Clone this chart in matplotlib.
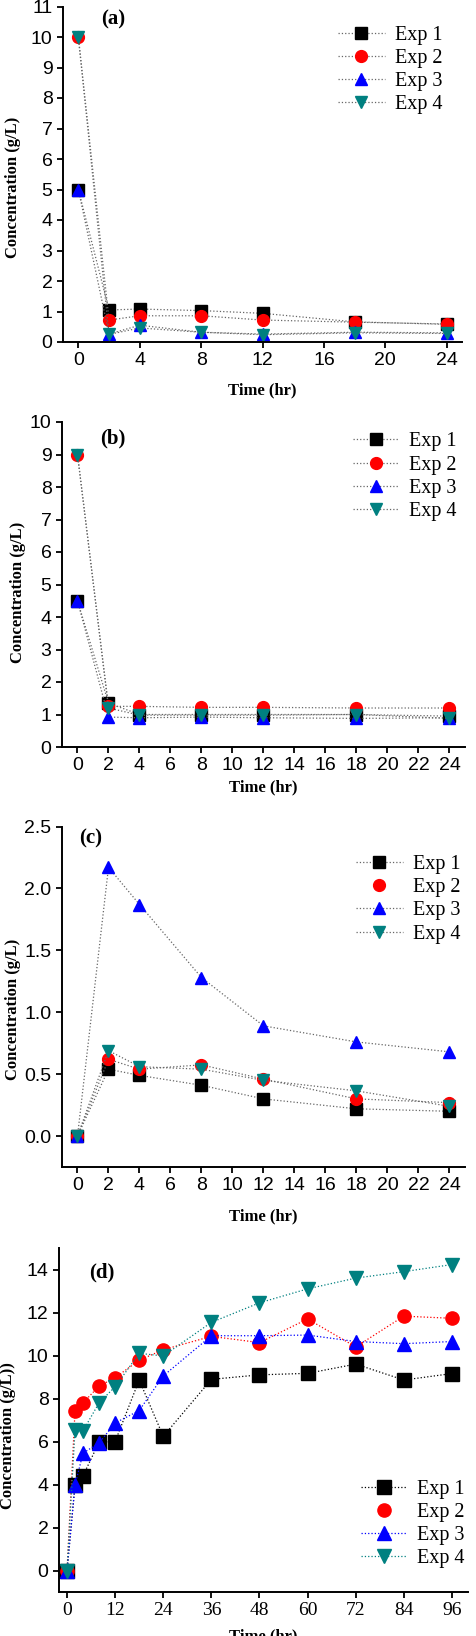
import matplotlib
matplotlib.use("Agg")
import matplotlib.pyplot as plt

# Data
time_short = [0, 2, 4, 8, 12, 18, 24]
time_long = [0, 2, 4, 8, 12, 18, 24, 36, 48, 60, 72, 84, 96]
labels = ["Exp 1", "Exp 2", "Exp 3", "Exp 4"]

# (a)
a_exp1 = [5.0, 1.05, 1.08, 1.03, 0.94, 0.66, 0.58]
a_exp2 = [10.0, 0.72, 0.86, 0.86, 0.72, 0.65, 0.59]
a_exp3 = [5.0, 0.26, 0.55, 0.32, 0.26, 0.32, 0.30]
a_exp4 = [10.0, 0.25, 0.46, 0.32, 0.24, 0.30, 0.28]

# (b)
b_exp1 = [4.5, 1.35, 1.0, 1.0, 1.0, 1.0, 0.95]
b_exp2 = [9.0, 1.25, 1.25, 1.22, 1.22, 1.2, 1.2]
b_exp3 = [4.5, 0.92, 0.9, 0.92, 0.9, 0.88, 0.9]
b_exp4 = [9.0, 1.2, 0.98, 0.98, 0.98, 1.0, 0.88]

# (c)
c_exp1 = [0.0, 0.54, 0.49, 0.41, 0.30, 0.22, 0.20]
c_exp2 = [0.0, 0.62, 0.54, 0.575, 0.46, 0.30, 0.27]
c_exp3 = [0.0, 2.17, 1.87, 1.28, 0.89, 0.76, 0.68]
c_exp4 = [0.0, 0.69, 0.56, 0.54, 0.45, 0.365, 0.24]

# (d)
d_exp1 = [0.0, 4.0, 4.41, 5.97, 6.0, 8.86, 6.24, 8.89, 9.1, 9.17, 9.6, 8.86, 9.16]
d_exp2 = [0.0, 7.44, 7.8, 8.58, 8.97, 9.78, 10.27, 10.89, 10.6, 11.7, 10.4, 11.83, 11.73]
d_exp3 = [0.0, 3.98, 5.46, 5.93, 6.86, 7.44, 9.05, 10.92, 10.92, 10.95, 10.65, 10.55, 10.65]
d_exp4 = [0.0, 6.55, 6.5, 7.8, 8.55, 10.1, 9.98, 11.54, 12.45, 13.1, 13.6, 13.9, 14.23]

colors = ["black", "#ff0000", "#0000ff", "#008080"]
markers = ["s", "o", "^", "v"]

W, H = 477, 1636
fig = plt.figure(figsize=(W / 100, H / 100), dpi=100)


def axes_px(left, right, top, bottom):
    # pixel box -> figure fraction
    return fig.add_axes([left / W, (H - bottom) / H, (right - left) / W, (bottom - top) / H])


def style_axes(ax, xfam="Liberation Sans", yfam="Liberation Sans", size=14):
    for s in ["top", "right"]:
        ax.spines[s].set_visible(False)
    for s in ["left", "bottom"]:
        ax.spines[s].set_linewidth(1.4)
    ax.tick_params(direction="out", length=4.5, width=1.3, pad=3, labelsize=size)
    ax.tick_params(axis="x", labelfontfamily=xfam)
    ax.tick_params(axis="y", labelfontfamily=yfam)


def finish(ax, tag, tag_pos, ylab, ylab_pos, xlab_pos, leg_pos, handles):
    ax.text(tag_pos[0], tag_pos[1], tag, transform=ax.transAxes, ha="center", va="center",
            fontsize=15, fontweight="bold", family="Liberation Serif")
    ax.set_ylabel(ylab, fontsize=12, fontweight="bold", family="Liberation Serif")
    ax.set_xlabel("Time (hr)", fontsize=12, fontweight="bold", family="Liberation Serif")
    ax.yaxis.set_label_coords(*ylab_pos)
    ax.xaxis.set_label_coords(*xlab_pos)
    ax.legend(handles=handles, labels=labels, loc="upper left", bbox_to_anchor=leg_pos,
              frameon=False, borderpad=0, borderaxespad=0, handlelength=2.3,
              handletextpad=0.5, labelspacing=0.2, prop={"family": "Liberation Serif", "size": 14.5})


def plot_gray(ax, x, series, ms):
    hs = []
    for y, c, m in zip(series, colors, markers):
        h, = ax.plot(x, y, linestyle=":", color="#666666", linewidth=0.9, marker=m,
                     markerfacecolor=c, markeredgecolor=c, markersize=ms)
        hs.append(h)
    return hs


# ---- (a)
ax = axes_px(63, 462, 6.5, 342)
ha = plot_gray(ax, time_short, [a_exp1, a_exp2, a_exp3, a_exp4], 8.5)
ax.set_xlim(-1, 25)
ax.set_ylim(0, 11)
ax.set_xticks([0, 4, 8, 12, 16, 20, 24])
ax.set_yticks(range(0, 12))
style_axes(ax)
finish(ax, "(a)", (0.125, 0.96), "Concentration (g/L)", (-0.105, 0.46), (0.5, -0.12),
       (0.69, 0.942), ha)

# ---- (b)
ax = axes_px(62, 465, 422, 747)
hb = plot_gray(ax, time_short, [b_exp1, b_exp2, b_exp3, b_exp4], 8.5)
ax.set_xlim(-1, 25)
ax.set_ylim(0, 10)
ax.set_xticks(range(0, 25, 2))
ax.set_yticks(range(0, 11))
style_axes(ax)
finish(ax, "(b)", (0.127, 0.95), "Concentration (g/L)", (-0.089, 0.477), (0.5, -0.10),
       (0.722, 0.968), hb)

# ---- (c)
ax = axes_px(62, 465, 826.5, 1167)
hc = plot_gray(ax, time_short, [c_exp1, c_exp2, c_exp3, c_exp4], 8.5)
hc[1] = plt.Line2D([], [], linestyle="none", marker="o", color=colors[1], markersize=8.5)
ax.set_xlim(-1, 25)
ax.set_ylim(-0.25, 2.5)
ax.set_xticks(range(0, 25, 2))
ax.set_yticks([0.0, 0.5, 1.0, 1.5, 2.0, 2.5])
ax.yaxis.set_major_formatter(matplotlib.ticker.FormatStrFormatter("%.1f"))
style_axes(ax)
finish(ax, "(c)", (0.07, 0.966), "Concentration (g/L)", (-0.102, 0.464), (0.5, -0.123),
       (0.73, 0.916), hc)

# ---- (d)
ax = axes_px(59, 468, 1248, 1592)
hd = []
for y, c, m in zip([d_exp1, d_exp2, d_exp3, d_exp4], colors, markers):
    h, = ax.plot(time_long, y, linestyle=":", color=c, linewidth=0.9, marker=m,
                 markerfacecolor=c, markeredgecolor=c, markersize=9.5)
    hd.append(h)
hd[1] = plt.Line2D([], [], linestyle="none", marker="o", color=colors[1], markersize=9.5)
ax.set_xlim(-2, 100)
ax.set_ylim(-1, 15)
ax.set_xticks(range(0, 97, 12))
ax.set_yticks(range(0, 15, 2))
style_axes(ax, xfam="Liberation Serif")
finish(ax, "(d)", (0.105, 0.93), "Concentration (g/L))", (-0.105, 0.456), (0.5, -0.105),
       (0.738, 0.326), hd)

fig.savefig("out.png", dpi=100)
